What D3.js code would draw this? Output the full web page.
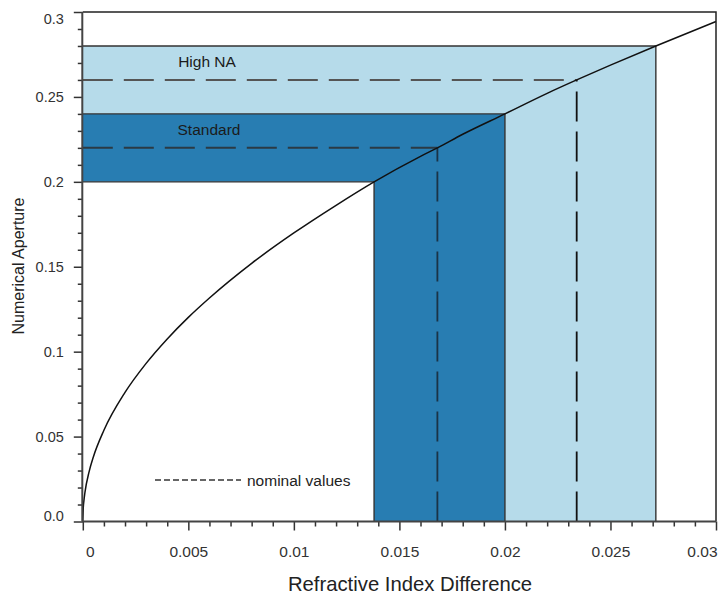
<!DOCTYPE html>
<html>
<head>
<meta charset="utf-8">
<script src="https://cdn.jsdelivr.net/npm/d3@7"></script>
<style>
  html, body { margin: 0; padding: 0; background: #fff; }
  svg { display: block; font-family: "Liberation Sans", Arial, sans-serif; }
</style>
</head>
<body>
<svg id="chart" width="718" height="596"></svg>
<script>
// ---- data ----
const xTickValues = [0, 0.005, 0.01, 0.015, 0.02, 0.025, 0.03];
const xTickLabels = ["0", "0.005", "0.01", "0.015", "0.02", "0.025", "0.03"];
const yTickValues = [0, 0.05, 0.1, 0.15, 0.2, 0.25, 0.3];
const yTickLabels = ["0.0", "0.05", "0.1", "0.15", "0.2", "0.25", "0.3"];

// curve: numerical aperture vs refractive index difference
const curveDn = [0, 0.00002, 0.00005, 0.0001, 0.0003, 0.0005, 0.001, 0.002, 0.003, 0.004, 0.005, 0.006, 0.008, 0.010, 0.012, 0.0138, 0.016, 0.0168, 0.018, 0.020, 0.022, 0.0234, 0.025, 0.02715, 0.030];
const curveNA = [0, 0.0076, 0.0120, 0.0170, 0.0294, 0.0380, 0.0537, 0.0760, 0.0931, 0.1075, 0.1202, 0.1316, 0.1520, 0.1699, 0.1862, 0.2000, 0.2150, 0.2200, 0.2280, 0.2400, 0.2521, 0.2600, 0.2687, 0.2800, 0.2944];

// bands
const bandNames = ["Standard", "High NA"];
const bandNAmin = [0.20, 0.24];
const bandNAmax = [0.24, 0.28];
const bandDnMin = [0.0138, 0.020];
const bandDnMax = [0.020, 0.02715];
const nominalNA = [0.22, 0.26];
const nominalDn = [0.0168, 0.0234];
const legendLabel = "nominal values";
const xTitle = "Refractive Index Difference";
const yTitle = "Numerical Aperture";

// ---- layout ----
const svg = d3.select("#chart");
const x = d3.scaleLinear().domain([0, 0.03]).range([82.8, 716]);
const y = d3.scaleLinear().domain([0, 0.3]).range([521.5, 12]);
const bandFill = ["#287db2", "#b6dbea"];

const g = svg.append("g");
const line = d3.line().x(d => x(d[0])).y(d => y(d[1]));

// band fills (draw High NA first, then Standard)
[1, 0].forEach(i => {
  const pts = [
    [0, bandNAmax[i]], [bandDnMax[i], bandNAmax[i]], [bandDnMax[i], 0],
    [bandDnMin[i], 0], [bandDnMin[i], bandNAmin[i]], [0, bandNAmin[i]]
  ];
  g.append("path").attr("d", line(pts) + "Z").attr("fill", bandFill[i]).attr("stroke", "none");
});

// band outlines
[1, 0].forEach(i => {
  g.append("path").attr("d", line([[0, bandNAmax[i]], [bandDnMax[i], bandNAmax[i]], [bandDnMax[i], 0]]))
    .attr("fill", "none").attr("stroke", "#333").attr("stroke-width", 1.4);
});
g.append("path").attr("d", line([[0, bandNAmin[0]], [bandDnMin[0], bandNAmin[0]], [bandDnMin[0], 0]]))
  .attr("fill", "none").attr("stroke", "#333").attr("stroke-width", 1.4);

// nominal dashed lines
[0, 1].forEach(i => {
  g.append("path").attr("d", line([[0, nominalNA[i]], [nominalDn[i], nominalNA[i]]]))
    .attr("fill", "none").attr("stroke", i === 1 ? "#555" : "#2b3a44").attr("stroke-width", 2)
    .attr("stroke-dasharray", "30,11");
  g.append("path").attr("d", line([[nominalDn[i], 0], [nominalDn[i], nominalNA[i]]]))
    .attr("fill", "none").attr("stroke", i === 1 ? "#111" : "#1a3347").attr("stroke-width", 1.8)
    .attr("stroke-dasharray", "30,10");
});

// band labels
const labelX = [209, 207];
const labelY = [135, 67];
[0, 1].forEach(i => {
  g.append("text").attr("x", labelX[i]).attr("y", labelY[i]).attr("text-anchor", "middle")
    .attr("font-size", 15.5).attr("fill", "#1b1b1b").text(bandNames[i]);
});

// curve
g.append("path")
  .datum(curveDn.map((d, i) => [d, curveNA[i]]))
  .attr("d", d3.line().x(d => x(d[0])).y(d => y(d[1])).curve(d3.curveMonotoneX))
  .attr("fill", "none").attr("stroke", "#111").attr("stroke-width", 1.5);

// legend
g.append("line").attr("x1", 155).attr("x2", 241).attr("y1", 480).attr("y2", 480)
  .attr("stroke", "#666").attr("stroke-width", 2).attr("stroke-dasharray", "6,3");
g.append("text").attr("x", 247).attr("y", 485.5).attr("font-size", 15.5).attr("fill", "#222").text(legendLabel);

// frame top & right
g.append("path").attr("d", `M${x(0)},${y(0.3)}H${x(0.03)}V${y(0)}`)
  .attr("fill", "none").attr("stroke", "#222").attr("stroke-width", 1.5);

// ---- axes ----
const xMinor = d3.range(0, 31).map(d => d / 1000).filter(v => !xTickValues.some(t => Math.abs(t - v) < 1e-9));
const yMinor = d3.range(0, 31).map(d => d / 100).filter(v => !yTickValues.some(t => Math.abs(t - v) < 1e-9));

const xAxisG = svg.append("g").attr("transform", `translate(0,${y(0)})`);
xAxisG.call(d3.axisBottom(x).tickValues(xMinor).tickSize(5).tickFormat(""));
xAxisG.append("g").call(d3.axisBottom(x).tickValues(xTickValues).tickSize(9).tickPadding(15)
  .tickFormat((d, i) => xTickLabels[i]));
xAxisG.selectAll(".domain").remove();
xAxisG.selectAll("line").attr("stroke", "#333").attr("stroke-width", 1.5);
xAxisG.selectAll("text").attr("font-size", 15.5).attr("fill", "#333").attr("font-family", "Liberation Sans, Arial, sans-serif");
xAxisG.selectAll(".tick").filter(d => d === 0).select("text").attr("dx", 7);
xAxisG.selectAll(".tick").filter(d => Math.abs(d - 0.03) < 1e-9).select("text").attr("text-anchor", "end").attr("dx", 1);

const yAxisG = svg.append("g").attr("transform", `translate(${x(0)},0)`);
yAxisG.call(d3.axisLeft(y).tickValues(yMinor).tickSize(5).tickFormat(""));
yAxisG.append("g").call(d3.axisLeft(y).tickValues(yTickValues).tickSize(9).tickPadding(10)
  .tickFormat((d, i) => yTickLabels[i]));
yAxisG.selectAll(".domain").remove();
yAxisG.selectAll("line").attr("stroke", "#333").attr("stroke-width", 1.5);
yAxisG.selectAll("text").attr("font-size", 14.5).attr("fill", "#333").attr("font-family", "Liberation Sans, Arial, sans-serif");
yAxisG.selectAll(".tick").filter(d => d === 0).select("text").attr("dy", "-0.1em");
yAxisG.selectAll(".tick").filter(d => Math.abs(d - 0.3) < 1e-9).select("text").attr("dy", "0.8em");

// axis lines
svg.append("line").attr("x1", x(0) - 0.5).attr("x2", x(0.03)).attr("y1", y(0)).attr("y2", y(0))
  .attr("stroke", "#444").attr("stroke-width", 2);
svg.append("line").attr("x1", x(0) - 0.5).attr("x2", x(0) - 0.5).attr("y1", y(0)).attr("y2", y(0.3))
  .attr("stroke", "#444").attr("stroke-width", 2);

// titles
svg.append("text").attr("x", 410).attr("y", 591).attr("text-anchor", "middle")
  .attr("font-size", 20.3).attr("fill", "#222").text(xTitle);
svg.append("text").attr("transform", `translate(24,266) rotate(-90)`).attr("text-anchor", "middle")
  .attr("font-size", 16).attr("fill", "#222").text(yTitle);
</script>
</body>
</html>
